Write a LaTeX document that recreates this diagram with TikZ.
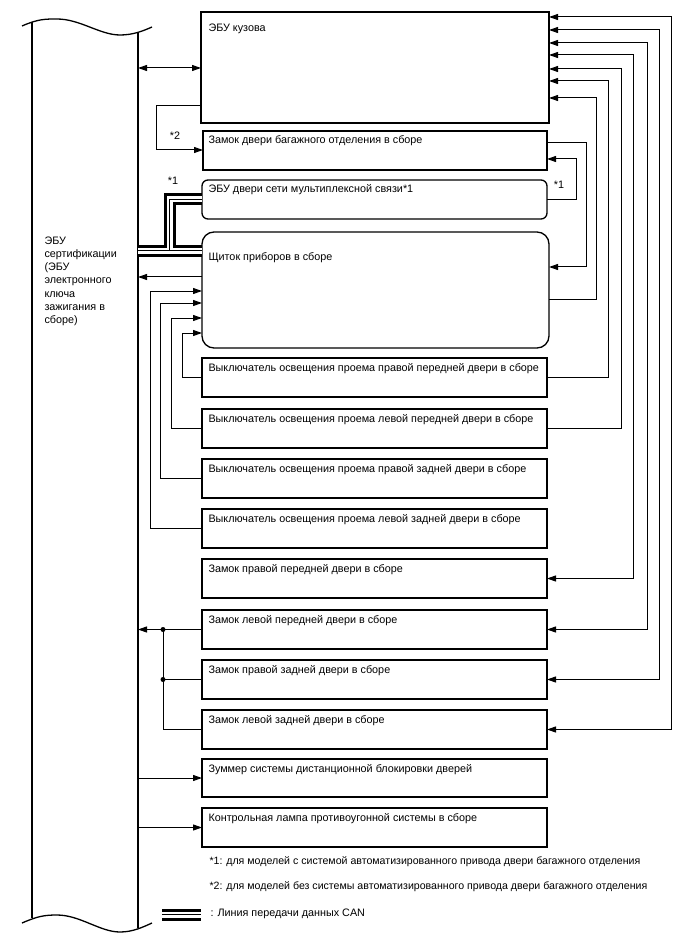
\documentclass[tikz,border=0pt]{standalone}
\usepackage{fontspec}
\setmainfont{Liberation Sans}
\usetikzlibrary{arrows.meta,positioning}
\tikzset{
  box/.style={draw, line width=1.3, anchor=north west, inner sep=0, outer sep=0, minimum width=345, minimum height=39},
  txt/.style={anchor=base west, inner sep=0},
}
\begin{document}
\begin{tikzpicture}[x=1pt, y=-1pt, font=\fontsize{10.8}{13.3}\selectfont, line width=1, >={Triangle[length=9,width=6]}]
	\useasboundingbox (0,0) rectangle (688,949);
	% certification ECU, broken off at both ends
	\draw[line width=1.3] (32,22) -- (32,918) (138,32) -- (138,928);
	\draw[line width=1.3] (22,26) .. controls (38,19) and (45,19) .. (57,19) .. controls (80,19) and (100,35) .. (120,35) .. controls (133,35) and (143,31) .. (152,27);
	\draw[line width=1.3] (22,923) .. controls (38,916) and (45,915) .. (57,915) .. controls (80,915) and (100,932) .. (120,932) .. controls (133,932) and (143,927) .. (152,923);
	\coordinate (cert) at (138,0);
	\node[txt, anchor=north west, align=left] (cert-t) at (44,236) {ЭБУ\\сертификации\\(ЭБУ\\электронного\\ключа\\зажигания в\\сборе)};
	% boxes
	\node[box, minimum width=348, minimum height=111] (ecu) at (201,12) {};
	\node[txt] (ecu-t) at ([shift={(7,20)}]ecu.north west) {ЭБУ кузова};
	\node[box, minimum width=344] (tgl) at (203,131) {};
	\node[txt] (tgl-t) at ([shift={(5,13)}]tgl.north west) {Замок двери багажного отделения в сборе};
	\node[box, rounded corners=6] (mpx) at (202,180) {};
	\node[txt] (mpx-t) at ([shift={(6,13)}]mpx.north west) {ЭБУ двери сети мультиплексной связи*1};
	\node[box, rounded corners=12, minimum width=347, minimum height=116] (meter) at (202,232) {};
	\node[txt] (meter-t) at ([shift={(6,29)}]meter.north west) {Щиток приборов в сборе};
	\foreach \y/\pos [count=\i] in {358/правой передней, 409/левой передней, 459/правой задней, 509/левой задней}{
		\node[box] (sw\i) at (202,\y) {};
		\node[txt] (sw\i-t) at ([shift={(6,13)}]sw\i.north west) {Выключатель освещения проема \pos\ двери в сборе};
	}
	\foreach \y/\pos [count=\i] in {559/правой передней, 610/левой передней, 660/правой задней, 710/левой задней}{
		\node[box] (lk\i) at (202,\y) {};
		\node[txt] (lk\i-t) at ([shift={(6,13)}]lk\i.north west) {Замок \pos\ двери в сборе};
	}
	\node[box, minimum height=38] (buz) at (202,759) {};
	\node[txt] (buz-t) at ([shift={(6,13)}]buz.north west) {Зуммер системы дистанционной блокировки дверей};
	\node[box] (lamp) at (202,808) {};
	\node[txt] (lamp-t) at ([shift={(6,13)}]lamp.north west) {Контрольная лампа противоугонной системы в сборе};
	% CAN lines
	\foreach \w/\c in {12/black, 6/white, 1/black}
		\draw[line width=\w, \c] (cert |- 0,251) -- (meter.west |- 0,251) (cert |- 0,251) -| (169.5,0 |- mpx.west) -- (mpx.west);
	\node (n1a) at (173,181) {*1};
	% left side
	\draw[<->] (cert |- 0,68) -- (ecu.west |- 0,68);
	\draw[->] (ecu.west |- 0,106) -| (156,150) -- (tgl.west |- 0,150);
	\node (n2) at (175,136) {*2};
	\draw[->] (meter.west |- 0,277) -- (cert |- 0,277);
	\foreach \i/\x/\y in {1/182/333, 2/171/318, 3/160/303, 4/150/291}
		\draw[->] (sw\i.west) -| (\x,\y) -- (meter.west |- 0,\y);
	\draw[->] (lk2.west) -- (cert |- lk2.west);
	\draw (lk3.west) -- (163,0 |- lk3.west);
	\draw (lk4.west) -| (163,0 |- lk2.west);
	\fill (163,0 |- lk2.west) circle (2.5pt) (163,0 |- lk3.west) circle (2.5pt);
	\draw[->] (cert |- buz.west) -- (buz.west);
	\draw[->] (cert |- lamp.west) -- (lamp.west);
	% right side
	\draw[->] (mpx.east) -| (576,159) -- (tgl.east |- 0,159);
	\node (n1b) at (559,185) {*1};
	\draw[->] (tgl.east |- 0,143) -| (586,267) -- (meter.east |- 0,267);
	\draw[->] (meter.east |- 0,299) -| (596,98) -- (ecu.east |- 0,98);
	\foreach \i/\x/\y in {1/608/81, 2/621/69}
		\draw[->] (sw\i.east) -| (\x,\y) -- (ecu.east |- 0,\y);
	\foreach \i/\x/\y in {1/633/55, 2/647/43, 3/659/30, 4/671/17}
		\draw[<->] (ecu.east |- 0,\y) -| (\x,0 |- lk\i.east) -- (lk\i.east);
	% notes and legend
	\node[txt, font=\fontsize{10.6}{13}\selectfont] (note1) at (209,864) {*1: для моделей с системой автоматизированного привода двери багажного отделения};
	\node[txt, font=\fontsize{10.6}{13}\selectfont] (note2) at (209,889) {*2: для моделей без системы автоматизированного привода двери багажного отделения};
	\coordinate (leg) at (162,914.5);
	\foreach \w/\c in {12/black, 6/white, 1/black}
		\draw[line width=\w, \c] (leg) -- ++(39,0);
	\node[txt] (leg-t) at (210,916) {: Линия передачи данных CAN};
\end{tikzpicture}
\end{document}
